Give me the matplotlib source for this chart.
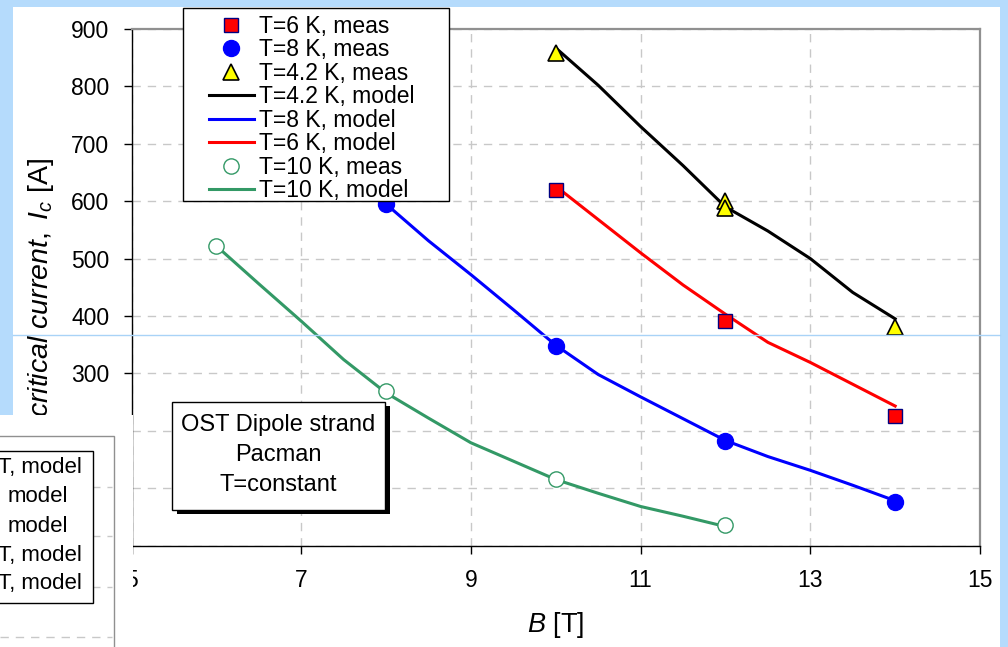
import matplotlib
matplotlib.use("Agg")
import matplotlib.pyplot as plt
import matplotlib.patches as mpatches
from matplotlib.lines import Line2D

plt.rcParams['font.family'] = ['Liberation Sans', 'DejaVu Sans']
plt.rcParams['mathtext.fontset'] = 'custom'
plt.rcParams['mathtext.rm'] = 'Liberation Sans'
plt.rcParams['mathtext.it'] = 'Liberation Sans:italic'
plt.rcParams['lines.scale_dashes'] = False

# Medidas (B en T, Ic en A)
b_42_meas = [10, 12, 12, 14]
ic_42_meas = [858, 600, 588, 380]
b_6_meas = [10, 12, 14]
ic_6_meas = [620, 391, 226]
b_8_meas = [8, 10, 12, 14]
ic_8_meas = [595, 348, 182, 75]
b_10_meas = [6, 8, 10, 12]
ic_10_meas = [522, 269, 116, 35]

# Curvas del modelo
b_42_model = [10, 10.5, 11, 11.5, 12, 12.5, 13, 13.5, 14]
ic_42_model = [867, 802, 730, 662, 590, 548, 500, 441, 395]
b_6_model = [10, 10.5, 11, 11.5, 12, 12.5, 13, 13.5, 14]
ic_6_model = [626, 568, 510, 454, 403, 354, 319, 281, 243]
b_8_model = [8, 8.5, 9, 9.5, 10, 10.5, 11, 11.5, 12, 12.5, 13, 13.5, 14]
ic_8_model = [595, 531, 472, 411, 349, 298, 259, 221, 183, 155, 131, 105, 78]
b_10_model = [6, 6.5, 7, 7.5, 8, 8.5, 9, 9.5, 10, 10.5, 11, 11.5, 12]
ic_10_model = [522, 456, 391, 324, 266, 222, 179, 147, 115, 91, 68, 51, 33]

x_ticks = [5, 7, 9, 11, 13, 15]
y_ticks = [0, 100, 200, 300, 400, 500, 600, 700, 800, 900]

W, H = 1008, 647
GREEN = '#339966'


def fx(x):
    return x / W


def fy(y):
    return 1 - y / H


def rect_px(x0, y0, x1, y1, **kw):
    """Rectángulo en píxeles de la figura (origen arriba a la izquierda)."""
    return mpatches.Rectangle((fx(x0), fy(y1)), fx(x1) - fx(x0), fy(y0) - fy(y1),
                              transform=fig.transFigure, **kw)


fig = plt.figure(figsize=(W / 100, H / 100), dpi=100)
fig.patch.set_facecolor('#b5dbfc')
fig.add_artist(rect_px(13, 7, 1000, 660, facecolor='white', edgecolor='none', zorder=-2))

ax = fig.add_axes([fx(131.5), fy(545.5), fx(980) - fx(131.5), fy(29) - fy(545.5)])
ax.set_facecolor('white')

# Curvas del modelo
l42, = ax.plot(b_42_model, ic_42_model, color='black', lw=2.2, zorder=3)
l8, = ax.plot(b_8_model, ic_8_model, color='#0000ff', lw=2.2, zorder=3)
l6, = ax.plot(b_6_model, ic_6_model, color='#ff0000', lw=2.2, zorder=3)
l10, = ax.plot(b_10_model, ic_10_model, color=GREEN, lw=2.2, zorder=3)

# Medidas
m6, = ax.plot(b_6_meas, ic_6_meas, ls='none', marker='s', ms=10.5, mfc='#ff0000',
              mec='#000080', mew=1.0, zorder=4)
m8, = ax.plot(b_8_meas, ic_8_meas, ls='none', marker='o', ms=11.5, mfc='#0000ff',
              mec='#0000ff', mew=1.0, zorder=4)
m42, = ax.plot(b_42_meas, ic_42_meas, ls='none', marker='^', ms=11, mfc='#ffff00',
               mec='black', mew=1.2, zorder=4)
m10, = ax.plot(b_10_meas, ic_10_meas, ls='none', marker='o', ms=11, mfc='white',
               mec=GREEN, mew=1.0, zorder=4)

ax.set_xlim(5, 15)
ax.set_ylim(0, 900)
ax.set_xticks(x_ticks)
ax.set_yticks(y_ticks)
ax.grid(True, color='#c8c8c8', lw=1.0, linestyle=(0, (6, 5)), zorder=1)
ax.set_axisbelow(True)

for side in ['left', 'bottom']:
    ax.spines[side].set_color('black')
    ax.spines[side].set_linewidth(1.0)
for side in ['top', 'right']:
    ax.spines[side].set_color('#909090')
    ax.spines[side].set_linewidth(1.6)

ax.tick_params(axis='both', direction='out', length=6, width=1.0, labelsize=16.5)
ax.tick_params(axis='y', pad=10)
ax.tick_params(axis='x', pad=11)

ax.set_xlabel(r'$\mathit{B}$ [T]', fontsize=19.5)
ax.xaxis.set_label_coords(0.5, -0.125)
ax.set_ylabel(r'$\mathit{critical\ current,\ I_c}$ [A]', fontsize=20.5)
ax.yaxis.set_label_coords(-0.089, 0.5)

# Leyenda con marco propio
fig.add_artist(rect_px(183, 8, 449, 201, facecolor='white', edgecolor='black',
                       lw=1.0, zorder=4))
handles = [m6, m8, m42, l42, l8, l6, m10, l10]
labels = ['T=6 K, meas', 'T=8 K, meas', 'T=4.2 K, meas', 'T=4.2 K, model',
          'T=8 K, model', 'T=6 K, model', 'T=10 K, meas', 'T=10 K, model']
leg = fig.legend(handles, labels, loc='upper left',
                 bbox_to_anchor=(fx(209), fy(15)), bbox_transform=fig.transFigure,
                 frameon=False, fontsize=16.5, handlelength=1.95, handletextpad=0.22,
                 labelspacing=0.02, borderpad=0, borderaxespad=0, numpoints=1)
leg.set_zorder(5)

# Cuadro de texto con sombra
fig.add_artist(rect_px(177, 406, 390, 514, facecolor='black', edgecolor='none', zorder=4))
fig.add_artist(rect_px(172, 402, 385, 510, facecolor='white', edgecolor='black',
                       lw=1.0, zorder=4.5))
for y, txt in zip([425, 455, 485], ['OST Dipole strand', 'Pacman', 'T=constant']):
    fig.text(fx(278.5), fy(y), txt, ha='center', va='center', fontsize=17, zorder=5)

# Línea de la diapositiva
fig.add_artist(Line2D([fx(13), fx(1000)], [fy(335), fy(335)], color='#a9d3f7', lw=1.0,
                      transform=fig.transFigure, zorder=6))

# Panel de otra gráfica superpuesto abajo a la izquierda
fig.add_artist(rect_px(0, 415, 133, 660, facecolor='white', edgecolor='none', zorder=7))
fig.add_artist(rect_px(-5, 436, 114, 660, facecolor='white', edgecolor='#909090',
                       lw=1.0, zorder=7.2))
for y in [487, 536, 587, 637]:
    fig.add_artist(Line2D([fx(0), fx(112)], [fy(y), fy(y)], color='#c8c8c8', lw=1.0,
                          linestyle=(0, (6, 5)), transform=fig.transFigure, zorder=7.4))
fig.add_artist(rect_px(-5, 451, 93, 603, facecolor='white', edgecolor='black',
                       lw=1.0, zorder=7.6))
for y, x, txt in zip([468, 497, 526, 555, 583], [82, 68, 68, 82, 82],
                     ['T, model', 'model', 'model', 'T, model', 'T, model']):
    fig.text(fx(x), fy(y), txt, ha='right', va='center', fontsize=16, zorder=8)

fig.savefig('out.png', dpi=100)
